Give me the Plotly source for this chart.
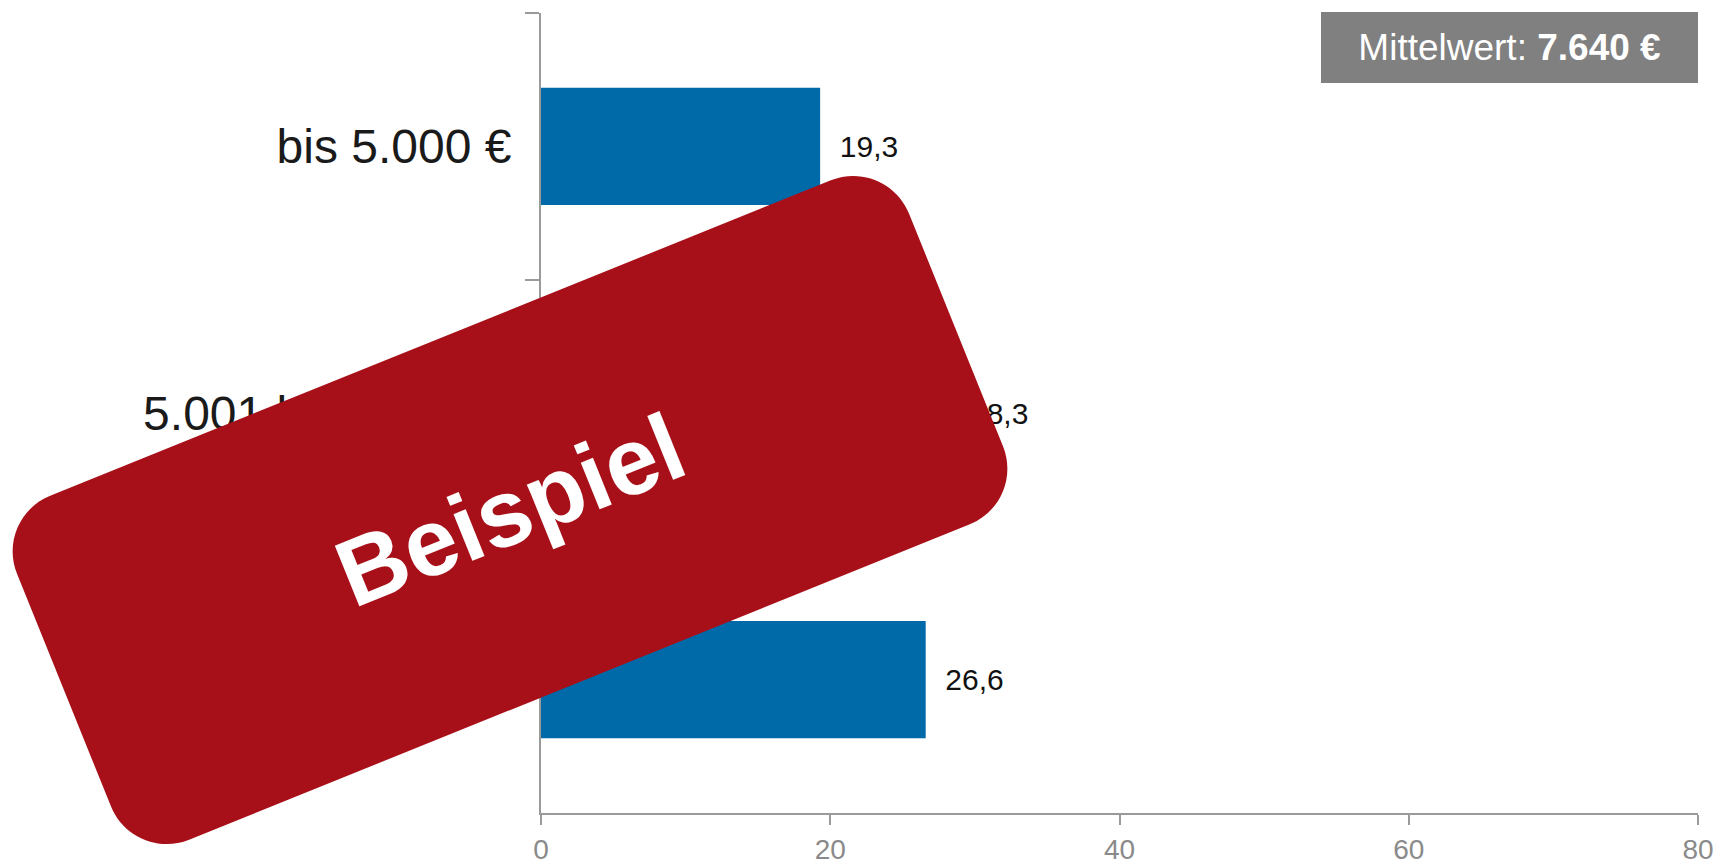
import math
import plotly.graph_objects as go

# ---------------- data ----------------
categories = ["bis 5.000 €", "5.001 bis 7.500 €", "über 7.500 €"]
values = [19.3, 28.3, 26.6]
x_tick_values = [0, 20, 40, 60, 80]
x_tick_labels = ["0", "20", "40", "60", "80"]
mean_text = "Mittelwert: <b>7.640 €</b>"
stamp_text = "Beispiel"

# ---------------- layout geometry ----------------
W, H = 1719, 864
ML, MR, MT, MB = 541, 21, 13, 51
PW = W - ML - MR
PH = H - MT - MB

BAR_COLOR = "#006AA9"
AXIS_COLOR = "#9A9A9A"
STAMP_COLOR = "#A81019"
FONT = "Liberation Sans, Arial, sans-serif"


def to_paper(px, py):
    return (px - ML) / PW, (H - MB - py) / PH


def rounded_rect_path(cx, cy, w, h, ang_deg, r):
    a = math.radians(ang_deg)
    e_w = (math.cos(a), -math.sin(a))   # along width (screen coords)
    e_h = (math.sin(a), math.cos(a))    # along height (downwards)

    def pt(s, t):
        X = cx + s * e_w[0] + t * e_h[0]
        Y = cy + s * e_w[1] + t * e_h[1]
        return to_paper(X, Y)

    hw, hh = w / 2, h / 2
    k = 0.5523 * r
    f = lambda p: f"{p[0]:.5f},{p[1]:.5f}"
    parts = [
        "M" + f(pt(-hw + r, -hh)),
        "L" + f(pt(hw - r, -hh)),
        "C" + f(pt(hw - r + k, -hh)) + " " + f(pt(hw, -hh + r - k)) + " " + f(pt(hw, -hh + r)),
        "L" + f(pt(hw, hh - r)),
        "C" + f(pt(hw, hh - r + k)) + " " + f(pt(hw - r + k, hh)) + " " + f(pt(hw - r, hh)),
        "L" + f(pt(-hw + r, hh)),
        "C" + f(pt(-hw + r - k, hh)) + " " + f(pt(-hw, hh - r + k)) + " " + f(pt(-hw, hh - r)),
        "L" + f(pt(-hw, -hh + r)),
        "C" + f(pt(-hw, -hh + r - k)) + " " + f(pt(-hw + r - k, -hh)) + " " + f(pt(-hw + r, -hh)),
        "Z",
    ]
    return " ".join(parts)


fig = go.Figure()
fig.add_trace(go.Bar(
    x=values,
    y=categories,
    orientation="h",
    marker=dict(color=BAR_COLOR, line=dict(width=0)),
    texttemplate="\u00a0\u00a0%{x:.1f}",
    textposition="outside",
    textfont=dict(family=FONT, size=30, color="#111111"),
    cliponaxis=False,
    hoverinfo="skip",
))

stamp_cx, stamp_cy = 510, 510
fig.add_shape(
    type="path",
    xref="paper", yref="paper",
    path=rounded_rect_path(stamp_cx, stamp_cy, 962, 371, 22, 60),
    fillcolor=STAMP_COLOR,
    line=dict(width=0),
    layer="above",
)
sx, sy = to_paper(stamp_cx, stamp_cy)
fig.add_annotation(
    xref="paper", yref="paper", x=sx, y=sy,
    text=f"<b>{stamp_text}</b>", showarrow=False,
    textangle=-22,
    font=dict(family=FONT, size=95, color="white"),
    xanchor="center", yanchor="middle",
)

fig.add_annotation(
    xref="paper", yref="paper", x=1, y=1.001,
    xanchor="right", yanchor="top",
    text=mean_text, showarrow=False,
    bgcolor="#808080",
    font=dict(family=FONT, size=37, color="white"),
    width=377, height=71, borderpad=0, borderwidth=0,
)

fig.update_layout(
    width=W, height=H,
    margin=dict(l=ML, r=MR, t=MT, b=MB, pad=0, autoexpand=False),
    paper_bgcolor="white", plot_bgcolor="white",
    separators=",.",
    showlegend=False,
    bargap=0.56,
    font=dict(family=FONT),
)
fig.update_xaxes(
    range=[0, 80],
    tickvals=x_tick_values, ticktext=x_tick_labels,
    showgrid=False, zeroline=False,
    showline=True, linecolor=AXIS_COLOR, linewidth=2,
    ticks="outside", ticklen=10, tickwidth=2, tickcolor=AXIS_COLOR,
    tickfont=dict(family=FONT, size=28, color="#8A8A8A"),
    automargin=False,
    fixedrange=True,
)
fig.update_yaxes(
    autorange="reversed",
    showgrid=False, zeroline=False,
    showline=True, linecolor=AXIS_COLOR, linewidth=2,
    ticks="outside", ticklen=14, tickwidth=2, tickcolor=AXIS_COLOR,
    tickson="boundaries",
    ticklabelstandoff=18,
    tickfont=dict(family=FONT, size=48, color="#1A1A1A"),
    automargin=False,
    fixedrange=True,
)

fig.write_html(
    "out.html",
    config={"displayModeBar": False},
    post_script="document.body.style.margin='0';document.body.style.overflow='hidden';",
)
